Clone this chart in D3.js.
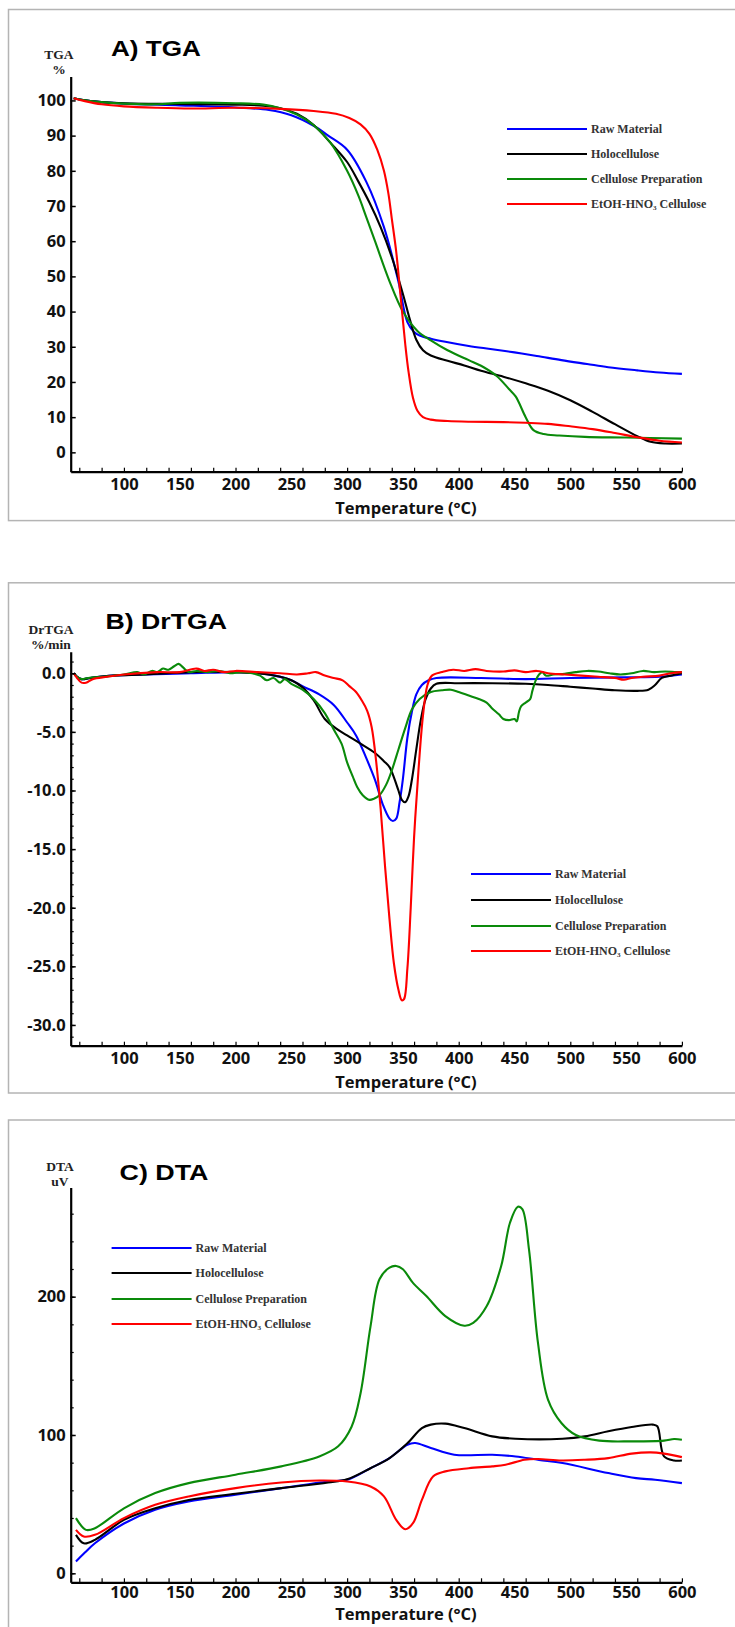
<!DOCTYPE html>
<html>
<head>
<meta charset="utf-8">
<script src="https://cdn.jsdelivr.net/npm/d3@7"></script>
<style>
  html, body { margin: 0; padding: 0; background: #fff; }
  svg { display: block; }
</style>
</head>
<body>
<div id="chart"></div>
<script>
// series names & colours, same in all three panels
var seriesNames = ["Raw Material", "Holocellulose", "Cellulose Preparation", "EtOH-HNO\u2083 Cellulose"];
var seriesColors = ["#0000ff", "#000000", "#0a8a0a", "#ff0000"];

// x ticks (temperature, °C)
var xLabelTicks = [100, 150, 200, 250, 300, 350, 400, 450, 500, 550, 600];
var xMinorTicks = d3.range(60, 601, 20);

// A) TGA, weight %
var tgaRaw = [[55,100.6],[70,99.8],[100,99.1],[150,98.6],[200,98.0],[230,97.3],[250,95.8],[270,92.8],[283,90],[300,86],[317,77],[333,64],[346,48.5],[354,37],[360,34.2],[365,33.2],[375,32.3],[388,31.4],[409,30.2],[430,29.3],[450,28.4],[470,27.4],[492,26.2],[515,25.1],[534,24.2],[560,23.3],[580,22.7],[600,22.3]];
var tgaHolo = [[55,100.6],[70,99.8],[100,99.2],[150,99.0],[200,98.8],[225,98.5],[240,97.8],[255,96.2],[270,93],[285,88],[300,82.5],[310,77],[320,71],[330,64],[340,55.5],[350,45],[356,38],[362,32],[368,29],[375,27.5],[390,26],[405,24.7],[420,23.2],[440,21.5],[460,19.6],[480,17.5],[500,14.8],[520,11.5],[540,8],[560,4.6],[572,3],[585,2.5],[600,2.5]];
var tgaCell = [[55,100.6],[70,99.8],[100,99.1],[130,98.9],[150,99.3],[200,99.2],[225,98.8],[240,97.8],[255,96],[270,93],[285,88],[300,80],[310,73],[317,67],[325,60],[338,48.6],[350,40],[363,34.5],[375,31.8],[390,29],[409,26.2],[420,24.6],[434,21.7],[445,18],[451,15.9],[460,10],[467,6.3],[476,5.2],[490,4.8],[513,4.4],[550,4.2],[600,3.9]];
var tgaEtoh = [[55,100.6],[65,99.8],[80,98.9],[100,98.3],[130,97.9],[160,97.7],[200,97.9],[240,97.6],[270,97],[290,96.2],[302,95],[312,93.2],[320,90.5],[327,86],[333,80],[337,73.5],[340,66.5],[344,57],[348,44],[352,31],[355,23],[359,15.5],[363,11.8],[368,10],[375,9.3],[390,8.9],[410,8.7],[440,8.6],[460,8.4],[480,8.1],[500,7.4],[520,6.6],[540,5.5],[560,4.3],[580,3.3],[600,2.8]];

// B) DrTGA, %/min
var dtgRaw = [[55,0],[58,-0.3],[62,-0.5],[70,-0.4],[90,-0.2],[120,-0.1],[160,0],[200,0.1],[220,0],[235,-0.2],[250,-0.6],[260,-1.1],[275,-1.8],[288,-2.7],[300,-4.2],[308,-5.3],[317,-7.2],[325,-9.1],[332,-11.2],[338,-12.4],[341,-12.6],[344,-12.4],[347,-11],[350,-9],[354,-5.5],[358,-3.3],[362,-1.8],[367,-1],[373,-0.6],[380,-0.4],[420,-0.4],[460,-0.5],[500,-0.4],[550,-0.35],[580,-0.3],[600,-0.1]];
var dtgHolo = [[55,0],[58,-0.3],[62,-0.5],[70,-0.4],[90,-0.2],[120,-0.1],[160,0.1],[200,0.1],[220,0],[240,-0.3],[250,-0.6],[260,-1.2],[270,-2.3],[280,-3.9],[290,-4.7],[300,-5.3],[312,-6],[325,-6.8],[333,-7.5],[338,-8],[342,-8.9],[346,-10],[349,-10.8],[352,-11],[355,-10.5],[358,-9.1],[362,-6.5],[366,-4],[370,-2.3],[375,-1.3],[380,-0.9],[400,-0.85],[430,-0.85],[460,-0.9],[480,-1.0],[500,-1.15],[520,-1.3],[540,-1.45],[560,-1.5],[570,-1.4],[576,-1.0],[582,-0.4],[590,-0.2],[600,0]];
var dtgCell = [[55,0],[58,-0.3],[62,-0.5],[68,-0.4],[80,-0.3],[100,-0.1],[112,0.1],[118,-0.1],[125,0.2],[130,0.1],[135,0.4],[140,0.3],[145,0.6],[149,0.8],[153,0.5],[158,0.1],[165,0.2],[175,0.1],[185,0.2],[195,0],[205,0.1],[215,0],[222,-0.2],[228,-0.6],[234,-0.4],[240,-0.8],[244,-0.5],[250,-0.9],[260,-1.4],[270,-2.2],[280,-3.4],[288,-4.8],[295,-6],[300,-7.6],[305,-8.8],[309,-9.7],[314,-10.4],[320,-10.8],[324,-10.7],[329,-10.4],[335,-9.5],[340,-8.3],[346,-6.5],[352,-4.7],[358,-3.1],[365,-2.2],[375,-1.6],[385,-1.45],[393,-1.4],[400,-1.6],[409,-1.9],[418,-2.2],[425,-2.5],[430,-3],[436,-3.5],[440,-3.9],[445,-4],[450,-3.9],[452,-4.1],[454,-3.3],[456,-2.8],[460,-2.5],[464,-2.2],[466,-1.5],[469,-0.6],[472,-0.1],[475,0.1],[478,-0.2],[485,-0.1],[495,-0.05],[505,0.1],[515,0.2],[525,0.15],[535,0],[545,-0.1],[555,0],[565,0.2],[575,0.1],[585,0.15],[595,0.1],[600,0.1]];
var dtgEtoh = [[55,0],[58,-0.4],[62,-0.8],[66,-0.8],[72,-0.5],[85,-0.3],[100,-0.1],[130,0.1],[150,0.1],[165,0.4],[172,0.2],[180,0.3],[190,0.1],[200,0.2],[220,0.1],[240,0],[255,-0.1],[265,0],[272,0.1],[280,-0.2],[288,-0.4],[296,-0.6],[302,-1.1],[308,-1.6],[313,-2.3],[318,-3.2],[322,-4.6],[326,-7.5],[330,-11.5],[334,-16.5],[338,-21],[342,-24.8],[346,-27],[349,-27.9],[351,-27.8],[354,-25.2],[357,-20],[360,-14],[364,-8.2],[368,-3.6],[372,-1],[376,-0.2],[385,0.1],[395,0.3],[405,0.2],[415,0.35],[425,0.2],[440,0.15],[450,0.25],[460,0.1],[470,0.2],[480,0],[495,-0.1],[510,-0.2],[525,-0.3],[540,-0.4],[548,-0.55],[555,-0.4],[565,-0.3],[580,-0.2],[590,0],[600,0.1]];

// C) DTA, uV
var dtaRaw = [[57,8.5],[65,15],[74,21.7],[100,36],[128,46],[158,52],[200,56.8],[241,61.6],[283,66.4],[300,67.6],[321,76],[338,83.3],[354,93],[361,94.2],[375,90.6],[396,85.7],[430,85.7],[451,84.5],[472,82],[493,79.7],[534,72.5],[559,68.8],[576,67.6],[600,65.2]];
var dtaHolo = [[57,27.8],[64,21.7],[74,24.2],[100,38.6],[128,47],[158,53],[200,57.5],[241,61.6],[283,65.7],[300,68],[321,76],[338,83.3],[354,94],[367,105],[375,107.5],[388,108.2],[405,105],[430,99],[451,97.3],[493,97.3],[513,99],[534,102.7],[555,105.8],[574,107.5],[578,106.3],[584,84.5],[593,81.6],[600,81.6]];
var dtaCell = [[57,39.9],[66,31.4],[74,32.6],[100,47],[128,58],[158,65.2],[200,71.3],[241,77.3],[275,84.5],[292,91.8],[304,106],[312,130],[321,178.7],[329,212.6],[338,221],[344,222.2],[350,219.8],[359,210],[371,200.5],[388,186],[405,179],[413,181],[425,193],[438,222],[446,253.6],[453,265],[457,263.3],[463,234],[471,166.7],[480,125.6],[492,108.7],[505,100],[526,95.9],[555,95.4],[584,95.9],[593,97.1],[600,96.6]];
var dtaEtoh = [[57,31.4],[64,26.6],[74,27.8],[100,39.9],[128,49.5],[158,55.6],[200,61.6],[241,65.7],[275,67.1],[300,66.4],[321,62.8],[333,55.6],[344,38.6],[352,31.9],[359,36.2],[367,53.1],[377,70],[388,73.7],[409,76],[430,77.3],[442,78.5],[459,82.1],[471,82.6],[492,81.6],[513,82.1],[534,83.3],[555,86.5],[572,87.4],[584,86.5],[600,84]];

var panels = [
  { frame: [9.5, 520.6], y: [-5.5, 106.8], yr: [471.7, 76.5], yTicks: d3.range(0, 101, 10), yMinor: [], fmt: function (d) { return d; },
    title: "A) TGA", titleX: 111, titleY: 55.5, titleLen: 90, ylab: ["TGA", "%"], ylabX: 59, ylabY: [58.5, 73.5],
    legX: 507, legY: [129, 154, 179, 204], xPad: 7, tempY: 514, series: [tgaRaw, tgaHolo, tgaCell, tgaEtoh] },
  { frame: [582.8, 1093], y: [-31.77, 1.84], yr: [1045.7, 651.7], yTicks: d3.range(-30, 1, 5), yMinor: d3.range(-31, 2, 1), fmt: function (d) { return d.toFixed(1); },
    title: "B) DrTGA", titleX: 105.5, titleY: 628.5, titleLen: 121.5, ylab: ["DrTGA", "%/min"], ylabX: 51, ylabY: [634, 649],
    legX: 471, legY: [874, 900, 926, 951], xPad: 7, tempY: 1088, series: [dtgRaw, dtgHolo, dtgCell, dtgEtoh] },
  { frame: [1120, 1660], y: [-6.5, 279], yr: [1582.3, 1187.4], yTicks: [0, 100, 200], yMinor: d3.range(0, 279, 20), fmt: function (d) { return d; },
    title: "C) DTA", titleX: 119.5, titleY: 1179.5, titleLen: 89, ylab: ["DTA", "uV"], ylabX: 60, ylabY: [1171, 1186],
    legX: 111.6, legY: [1248, 1273, 1299, 1324], xPad: 4, tempY: 1620, series: [dtaRaw, dtaHolo, dtaCell, dtaEtoh] }
];

var svg = d3.select("#chart").append("svg")
  .attr("width", 735)
  .attr("height", 1627);

var x = d3.scaleLinear().domain([52.3, 600]).range([70.7, 681.9]);
var tickFont = "'Open Sans', 'Liberation Sans', sans-serif";
var serifFont = "'Liberation Serif', 'Times New Roman', serif";

panels.forEach(function (p) {
  var g = svg.append("g");
  var y = d3.scaleLinear().domain(p.y).range(p.yr);

  // panel frame
  g.append("rect")
    .attr("x", 8.5).attr("y", p.frame[0])
    .attr("width", 740).attr("height", p.frame[1] - p.frame[0])
    .attr("fill", "none").attr("stroke", "#b4b4b4").attr("stroke-width", 1.5);

  // curves
  var line = d3.line()
    .x(function (d) { return x(d[0]); })
    .y(function (d) { return y(d[1]); })
    .curve(d3.curveCatmullRom.alpha(0.5));
  p.series.forEach(function (s, i) {
    g.append("path")
      .attr("d", line(s))
      .attr("fill", "none")
      .attr("stroke", seriesColors[i])
      .attr("stroke-width", 2.1)
      .attr("stroke-linejoin", "round");
  });

  // x axis: minor ticks every 20, labels every 50
  var xBase = y.range()[0];
  g.append("g")
    .attr("transform", "translate(0," + xBase + ")")
    .call(d3.axisBottom(x).tickValues(xMinorTicks).tickSizeInner(-4).tickSizeOuter(0).tickFormat(""))
    .call(function (a) {
      a.select(".domain").attr("stroke-width", 2.2);
      a.selectAll(".tick line").attr("stroke-width", 1.2);
    });
  g.append("g")
    .attr("transform", "translate(0," + xBase + ")")
    .call(d3.axisBottom(x).tickValues(xLabelTicks).tickSize(0).tickPadding(p.xPad))
    .call(function (a) {
      a.select(".domain").remove();
      a.selectAll("text").attr("font-family", tickFont).attr("font-weight", "bold")
        .attr("font-size", 16.5).attr("fill", "#111");
    });

  // y axis
  var yAx = g.append("g")
    .attr("transform", "translate(" + x.range()[0] + ",0)");
  yAx.call(d3.axisLeft(y).tickValues(p.yMinor).tickSizeInner(-3).tickSizeOuter(0).tickFormat(""))
    .call(function (a) {
      a.select(".domain").attr("stroke-width", 2.2);
      a.selectAll(".tick line").attr("stroke-width", 1.2);
    });
  g.append("g")
    .attr("transform", "translate(" + x.range()[0] + ",0)")
    .call(d3.axisLeft(y).tickValues(p.yTicks).tickSizeInner(-5).tickSizeOuter(0).tickPadding(5).tickFormat(p.fmt))
    .call(function (a) {
      a.select(".domain").remove();
      a.selectAll(".tick line").attr("stroke-width", 1.5);
      a.selectAll("text").attr("font-family", tickFont).attr("font-weight", "bold")
        .attr("font-size", 16.5).attr("fill", "#111");
    });

  // axis labels
  p.ylab.forEach(function (t, i) {
    g.append("text")
      .attr("x", p.ylabX).attr("y", p.ylabY[i])
      .attr("text-anchor", "middle")
      .attr("font-family", serifFont).attr("font-weight", "bold")
      .attr("font-size", 13.5).attr("fill", "#222")
      .text(t);
  });
  g.append("text")
    .attr("x", 406).attr("y", p.tempY)
    .attr("text-anchor", "middle")
    .attr("font-family", tickFont).attr("font-weight", "bold")
    .attr("font-size", 16.5).attr("fill", "#111")
    .text("Temperature (\u00B0C)");

  // panel title
  g.append("text")
    .attr("x", p.titleX).attr("y", p.titleY)
    .attr("font-family", "'Liberation Sans', Arial, sans-serif").attr("font-weight", "bold")
    .attr("font-size", 22.5).attr("fill", "#000")
    .attr("textLength", p.titleLen).attr("lengthAdjust", "spacingAndGlyphs")
    .text(p.title);

  // legend
  seriesNames.forEach(function (n, i) {
    g.append("line")
      .attr("x1", p.legX).attr("x2", p.legX + 80)
      .attr("y1", p.legY[i]).attr("y2", p.legY[i])
      .attr("stroke", seriesColors[i]).attr("stroke-width", 2);
    g.append("text")
      .attr("x", p.legX + 84).attr("y", p.legY[i] + 4)
      .attr("font-family", serifFont).attr("font-weight", "bold")
      .attr("font-size", 12).attr("fill", "#333")
      .text(n);
  });
});
</script>
</body>
</html>
